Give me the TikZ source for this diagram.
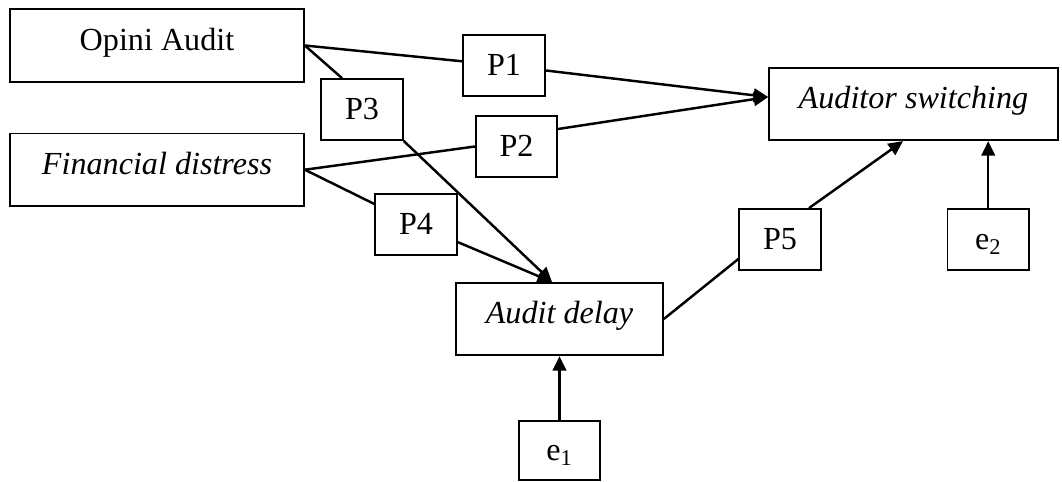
\documentclass[tikz,border=0pt]{standalone}
\usepackage{fontspec}
\setmainfont{Liberation Serif}
\usetikzlibrary{positioning,arrows.meta,calc}
\tikzset{
  flow/.style={-{Triangle[length=2.9mm,width=2.7mm]},line width=1.4pt,draw=black},
  link/.style={line width=1.4pt,draw=black},
  varbox/.style={draw=black,line width=1pt,inner sep=0pt,
    minimum height=1.45cm,text height=0.44cm,text depth=0.24cm,align=center,
    font=\fontsize{18.3}{22}\selectfont},
  pbox/.style={draw=black,line width=1pt,inner sep=0pt,
    minimum width=1.63cm,minimum height=1.22cm,text height=0.42cm,text depth=0pt,
    font=\fontsize{18.3}{22}\selectfont}
}

\begin{document}
\begin{tikzpicture}[x=0.02cm,y=-0.02cm,node distance=0.3cm]
  \useasboundingbox (0,0) rectangle (1062,482);
  \node[varbox,minimum width=5.88cm] (opini) at (157,45.5) {Opini Audit};
  \node[varbox,minimum width=5.88cm,below=1cm of opini] (distress) {\textit{Financial distress}};
  \node[varbox,minimum width=5.78cm] (switching) at (913.5,104) {\textit{Auditor switching}};
  \node[varbox,minimum width=4.14cm] (delay) at (559.5,319) {\textit{Audit delay}};

  \node[pbox] (p1) at (504,65.5) {P1};
  \node[pbox] (p2) at (516.5,146.5) {P2};
  \node[pbox] (p3) at (362,109.5) {P3};
  \node[pbox] (p4) at (416,224.5) {P4};
  \node[pbox] (p5) at (780,239.5) {P5};
  \node[pbox,right=2.5cm of p5] (e2) {e\textsubscript{2}};
  \node[pbox,below=1.28cm of delay,minimum height=1.18cm] (e1) {e\textsubscript{1}};

  \coordinate (swIn) at ([yshift=0.14cm]switching.west);
  \coordinate (dlIn) at ([xshift=-0.15cm]delay.north);

  \draw[link] (opini.east) -- (p1);
  \draw[flow] (p1) -- (swIn);
  \draw[link] (distress.east) -- (p2.west);
  \draw[flow] ([yshift=0.35cm]p2.east) -- (swIn);
  \draw[link] (opini.east) -- ([xshift=-0.4cm]p3.north);
  \draw[flow] (p3.south east) -- (dlIn);
  \draw[link] (distress.east) -- (p4);
  \draw[flow] (p4) -- (dlIn);
  \draw[link] (delay.east) -- ([yshift=-0.39cm]p5.west);
  \draw[flow] ([xshift=0.58cm]p5.north) -- ([xshift=-0.21cm]switching.south);
  \draw[flow] (e2.north) -- (e2.north |- switching.south);
  \draw[flow] (e1.north) -- (e1.north |- delay.south);
\end{tikzpicture}
\end{document}
